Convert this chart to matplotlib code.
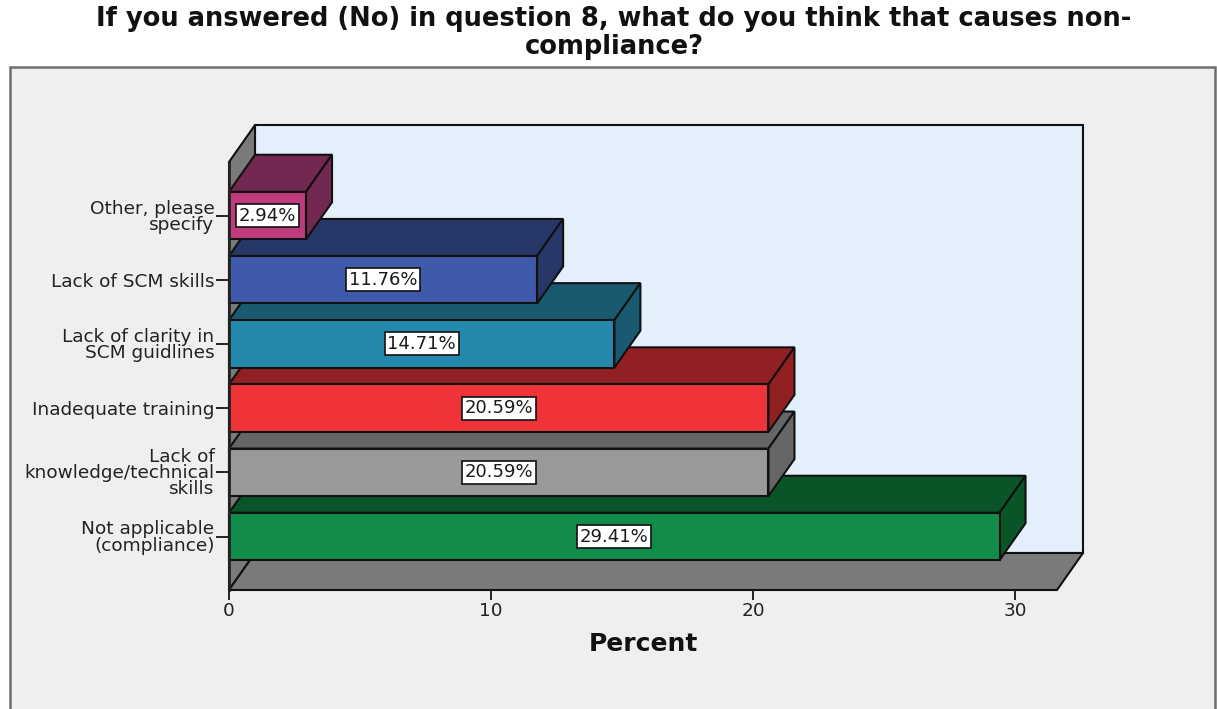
import matplotlib
matplotlib.use("Agg")
import matplotlib.pyplot as plt
from matplotlib.patches import Polygon, Rectangle

# Survey responses, listed from the bottom bar upwards
categories = [
    "Not applicable\n(compliance)",
    "Lack of\nknowledge/technical\nskills",
    "Inadequate training",
    "Lack of clarity in\nSCM guidlines",
    "Lack of SCM skills",
    "Other, please\nspecify",
]
percent = [29.41, 20.59, 20.59, 14.71, 11.76, 2.94]
front_colors = ["#118C4A", "#999999", "#EF3338", "#2389AD", "#3F5AAB", "#BE3C7C"]
shade_colors = ["#095528", "#666666", "#922022", "#1A5A70", "#273768", "#722850"]
x_ticks = [0, 10, 20, 30]

W, H = 1217, 709
fig = plt.figure(figsize=(W / 100, H / 100), dpi=100, facecolor="white")
plt.rcParams["font.family"] = "DejaVu Sans"

# Outer chart frame, open past the bottom edge of the figure
fig.add_artist(Rectangle((10 / W, -0.02), 1205 / W, (H - 67) / H + 0.02,
                         transform=fig.transFigure, facecolor="#EFEFEF",
                         edgecolor="#6E6E6E", linewidth=1.8, zorder=-5))

fig.text(614 / W, 1 - 19 / H, "If you answered (No) in question 8, what do you think that causes non-",
         ha="center", va="center", fontsize=18.5, fontweight="bold", color="#111111")
fig.text(614 / W, 1 - 47 / H, "compliance?",
         ha="center", va="center", fontsize=18.5, fontweight="bold", color="#111111")

# Plot box: front face of the floor and left wall
ax = fig.add_axes([229 / W, 1 - 590 / H, 828 / W, 428 / H])
ax.patch.set_visible(False)
px_per_unit = 26.2
pitch = 64.2
x_max = 828 / px_per_unit
y_min = -53.5 / pitch
y_max = y_min + 428 / pitch
ax.set_xlim(0, x_max)
ax.set_ylim(y_min, y_max)

# Depth of the extruded box in data units
dx = 26 / px_per_unit
dy = 37 / pitch
half = 47.5 / pitch / 2
edge = "#111111"


def face(points, color, z, lw=1.5):
    ax.add_patch(Polygon(points, closed=True, facecolor=color, edgecolor=edge,
                         linewidth=lw, clip_on=False, zorder=z, joinstyle="miter"))


# Back wall, left wall and floor
face([(dx, y_min + dy), (x_max + dx, y_min + dy), (x_max + dx, y_max + dy), (dx, y_max + dy)], "#E3EFFB", 1)
face([(0, y_min), (dx, y_min + dy), (dx, y_max + dy), (0, y_max)], "#7A7A7A", 1.1)
face([(0, y_min), (x_max, y_min), (x_max + dx, y_min + dy), (dx, y_min + dy)], "#7A7A7A", 1.2)

# Extruded bars; upper bars overlap the top faces of the ones below
for i, (val, fc, sc) in enumerate(zip(percent, front_colors, shade_colors)):
    z = 2 + i
    lo, hi = i - half, i + half
    face([(0, hi), (val, hi), (val + dx, hi + dy), (dx, hi + dy)], sc, z)
    face([(val, lo), (val + dx, lo + dy), (val + dx, hi + dy), (val, hi)], sc, z)
    face([(0, lo), (val, lo), (val, hi), (0, hi)], fc, z)
    ax.text(val / 2, i, f"{val:.2f}%", ha="center", va="center", fontsize=13,
            color="#1A1A1A", zorder=20,
            bbox=dict(boxstyle="square,pad=0.14", facecolor="white", edgecolor="#111111", linewidth=1.2))

for side in ("top", "right", "bottom"):
    ax.spines[side].set_visible(False)
ax.spines["left"].set_linewidth(2.0)
ax.spines["left"].set_color("#222222")
ax.spines["left"].set_zorder(15)

ax.set_xticks(x_ticks)
ax.set_yticks(range(len(categories)))
ax.set_yticklabels(categories, linespacing=0.86, ma="right")
ax.tick_params(axis="x", length=7.5, width=1.4, color="#222222", labelsize=13.3, labelcolor="#222222", pad=1.5)
ax.tick_params(axis="y", length=9.5, width=1.4, color="#222222", labelsize=13.3, labelcolor="#222222", pad=1)

fig.text(643 / W, 1 - 644 / H, "Percent", ha="center", va="center",
         fontsize=18, fontweight="bold", color="#111111")

fig.savefig("out.png", dpi=100)
